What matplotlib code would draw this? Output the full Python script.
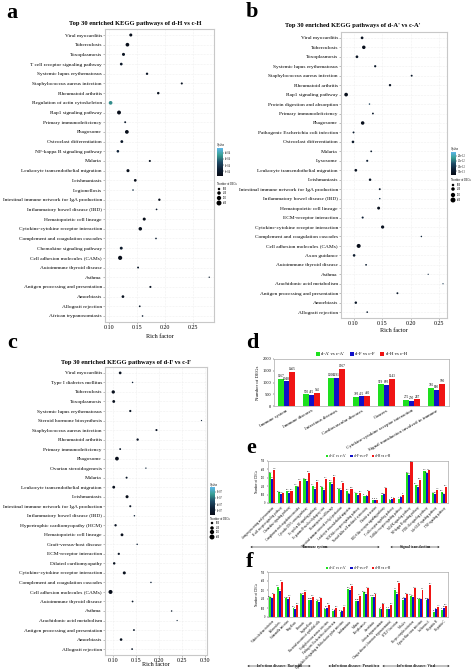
import numpy as np
import matplotlib
matplotlib.use("Agg")
import matplotlib.pyplot as plt
from matplotlib.colors import LinearSegmentedColormap

plt.rcParams['font.family'] = ['Liberation Serif', 'DejaVu Serif']

# ---------------- data ----------------
a_names = ["Viral myocarditis", "Tuberculosis", "Toxoplasmosis", "T cell receptor signaling pathway",
           "Systemic lupus erythematosus", "Staphylococcus aureus infection", "Rheumatoid arthritis",
           "Regulation of actin cytoskeleton", "Rap1 signaling pathway", "Primary immunodeficiency",
           "Phagosome", "Osteoclast differentiation", "NF-kappa B signaling pathway", "Malaria",
           "Leukocyte transendothelial migration", "Leishmaniasis", "Legionellosis",
           "Intestinal immune network for IgA production", "Inflammatory bowel disease (IBD)",
           "Hematopoietic cell lineage", "Cytokine-cytokine receptor interaction",
           "Complement and coagulation cascades", "Chemokine signaling pathway",
           "Cell adhesion molecules (CAMs)", "Autoimmune thyroid disease", "Asthma",
           "Antigen processing and presentation", "Amoebiasis", "Allograft rejection",
           "African trypanosomiasis"]
a_rich = [0.139, 0.133, 0.126, 0.122, 0.168, 0.230, 0.188, 0.103, 0.118, 0.129,
          0.132, 0.123, 0.116, 0.173, 0.134, 0.147, 0.143, 0.190, 0.185, 0.163,
          0.156, 0.184, 0.122, 0.120, 0.152, 0.279, 0.174, 0.125, 0.155, 0.160]
a_genes = [150, 220, 150, 120, 90, 70, 100, 220, 250, 60,
           230, 130, 110, 70, 150, 120, 40, 90, 45, 150,
           200, 45, 140, 280, 60, 30, 70, 120, 50, 40]
a_q = [0.2, 0.1, 0.3, 0.5, 0.4, 0.4, 0.3, 2.5, 0.1, 0.6,
       0.1, 0.5, 0.9, 0.3, 0.2, 0.1, 1.2, 0.2, 0.6, 0.1,
       0.2, 0.8, 0.6, 0.1, 0.5, 0.7, 0.4, 0.3, 0.5, 0.7]

b_names = ["Viral myocarditis", "Tuberculosis", "Toxoplasmosis", "Systemic lupus erythematosus",
           "Staphylococcus aureus infection", "Rheumatoid arthritis", "Rap1 signaling pathway",
           "Protein digestion and absorption", "Primary immunodeficiency", "Phagosome",
           "Pathogenic Escherichia coli infection", "Osteoclast differentiation", "Malaria",
           "Lysosome", "Leukocyte transendothelial migration", "Leishmaniasis",
           "Intestinal immune network for IgA production", "Inflammatory bowel disease (IBD)",
           "Hematopoietic cell lineage", "ECM-receptor interaction",
           "Cytokine-cytokine receptor interaction", "Complement and coagulation cascades",
           "Cell adhesion molecules (CAMs)", "Axon guidance", "Autoimmune thyroid disease",
           "Asthma", "Arachidonic acid metabolism", "Antigen processing and presentation",
           "Amoebiasis", "Allograft rejection"]
b_rich = [0.115, 0.118, 0.106, 0.138, 0.202, 0.164, 0.087, 0.128, 0.134, 0.116,
          0.100, 0.099, 0.131, 0.124, 0.104, 0.129, 0.146, 0.146, 0.144, 0.116,
          0.151, 0.219, 0.109, 0.101, 0.122, 0.231, 0.257, 0.177, 0.104, 0.124]
b_genes = [120, 200, 120, 80, 60, 90, 220, 35, 55, 200,
           60, 110, 50, 70, 120, 100, 60, 35, 140, 70,
           170, 35, 260, 110, 50, 25, 25, 60, 100, 45]
b_q = [0.3, 0.2, 0.4, 0.5, 0.6, 0.4, 0.2, 1.5, 0.6, 0.2,
       0.7, 0.5, 0.7, 0.8, 0.3, 0.4, 0.6, 1.2, 0.2, 0.8,
       0.3, 1.0, 0.1, 0.6, 0.7, 1.1, 1.3, 0.6, 0.5, 0.7]

c_names = ["Viral myocarditis", "Type I diabetes mellitus", "Tuberculosis", "Toxoplasmosis",
           "Systemic lupus erythematosus", "Steroid hormone biosynthesis",
           "Staphylococcus aureus infection", "Rheumatoid arthritis", "Primary immunodeficiency",
           "Phagosome", "Ovarian steroidogenesis", "Malaria", "Leukocyte transendothelial migration",
           "Leishmaniasis", "Intestinal immune network for IgA production",
           "Inflammatory bowel disease (IBD)", "Hypertrophic cardiomyopathy (HCM)",
           "Hematopoietic cell lineage", "Graft-versus-host disease", "ECM-receptor interaction",
           "Dilated cardiomyopathy", "Cytokine-cytokine receptor interaction",
           "Complement and coagulation cascades", "Cell adhesion molecules (CAMs)",
           "Autoimmune thyroid disease", "Asthma", "Arachidonic acid metabolism",
           "Antigen processing and presentation", "Amoebiasis", "Allograft rejection"]
c_rich = [0.116, 0.143, 0.101, 0.102, 0.138, 0.293, 0.195, 0.154, 0.116, 0.109,
          0.172, 0.130, 0.102, 0.131, 0.138, 0.147, 0.106, 0.120, 0.153, 0.113,
          0.103, 0.125, 0.183, 0.095, 0.143, 0.228, 0.240, 0.146, 0.118, 0.142]
c_genes = [120, 35, 180, 130, 80, 25, 70, 90, 55, 230,
           30, 65, 130, 150, 70, 35, 90, 130, 35, 80,
           100, 150, 35, 260, 50, 35, 25, 55, 110, 50]
c_q = [0.3, 0.8, 0.2, 0.2, 0.4, 1.0, 0.4, 0.4, 0.5, 0.1,
       1.0, 0.5, 0.2, 0.1, 0.4, 0.9, 0.4, 0.2, 0.9, 0.4,
       0.3, 0.2, 0.9, 0.1, 0.5, 0.6, 1.0, 0.5, 0.3, 0.5]

series = ["d-A' vs c-A'", "d-F vs c-F", "d-H vs c-H"]
bar_colors = ["#1ee01e", "#1010c8", "#f01414"]

d_cats = ["Immune system", "Immune diseases", "Infectious diseases", "Cardiovascular diseases",
          "Cancers", "Cytokine-cytokine receptor interaction", "Signal transduction involved in immune"]
d_vals = [[1167, 500, 1206, 393, 919, 275, 785],
          [1048, 475, 1191, 415, 893, 230, 690],
          [1465, 545, 1567, 420, 1143, 287, 930]]

e_cats = ["Antigen processing and presentation", "B cell receptor signaling pathway",
          "Chemokine signaling pathway", "Complement and coagulation cascades",
          "Cytosolic DNA-sensing pathway", "Fc epsilon RI signaling pathway",
          "Fc gamma R-mediated phagocytosis", "Hematopoietic cell lineage",
          "Intestinal immune network for IgA production", "Leukocyte transendothelial migration",
          "NOD-like receptor signaling pathway", "Natural killer cell mediated cytotoxicity",
          "Platelet activation", "RIG-I-like receptor signaling pathway",
          "T cell receptor signaling pathway", "Toll-like receptor signaling pathway",
          "MAPK signaling pathway", "NF-kappa B signaling pathway", "PI3K-Akt signaling pathway",
          "Jak-STAT signaling pathway", "TNF signaling pathway"]
e_vals = [[352, 129, 145, 203, 281, 207, 188, 250, 164, 145, 117, 86, 35, 94, 31, 51, 352, 215, 383, 117, 133],
          [289, 109, 125, 188, 266, 172, 156, 230, 156, 105, 94, 78, 35, 102, 47, 66, 332, 195, 352, 109, 105],
          [398, 117, 145, 266, 359, 254, 285, 313, 242, 168, 125, 137, 38, 176, 55, 98, 484, 273, 391, 156, 195]]

f_cats = ["Vibrio cholerae infection", "Tuberculosis", "Salmonella infection", "Shigellosis",
          "Pertussis", "Legionellosis", "Bacterial invasion of epithelial cells",
          "Staphylococcus aureus infection", "Pathogenic Escherichia coli infection",
          "Epithelial cell signaling in Helicobacter pylori infection", "Leishmaniasis", "Malaria",
          "Toxoplasmosis", "Amoebiasis", "African trypanosomiasis",
          "Chagas disease (American trypanosomiasis)", "HTLV-I infection", "Measles",
          "Herpes simplex infection", "Epstein-Barr virus infection", "Influenza A",
          "Hepatitis B", "Hepatitis C"]
f_vals = [[218, 338, 207, 105, 252, 188, 177, 86, 68, 56, 312, 180, 274, 226, 86, 94, 301, 188, 233, 195, 188, 56, 83],
          [207, 289, 199, 94, 244, 188, 169, 105, 75, 64, 301, 180, 256, 226, 94, 94, 256, 207, 226, 195, 195, 86, 102],
          [252, 387, 226, 132, 282, 226, 207, 132, 102, 113, 350, 237, 320, 252, 139, 132, 376, 252, 320, 301, 357, 113, 124]]

legend_sizes = [100, 200, 300, 400]

# ---------------- layout helpers ----------------
W, H = 472, 669
fig = plt.figure(figsize=(W / 100, H / 100), dpi=100)


def px_axes(left, top, right, bottom):
    return fig.add_axes([left / W, 1 - bottom / H, (right - left) / W, (bottom - top) / H])


cmap = LinearSegmentedColormap.from_list("q", ["#070b16", "#0f2238", "#1f4d68", "#3aa096", "#5db6e8"])
SCALE = 0.032

ov = fig.add_axes([0, 0, 1, 1])
ov.set_xlim(0, W)
ov.set_ylim(H, 0)
ov.axis("off")


def dot_panel(box, names, rich, genes, qv, xlim, xticks, title, title_xy,
              cbar_box, cbar_labels, leg_x, leg_title_y, leg_ys, xlabel_y):
    ax = px_axes(*box)
    n = len(names)
    y = np.arange(n)
    sc = ax.scatter(rich, y, s=np.array(genes) * SCALE, c=qv, cmap=cmap, vmin=0, vmax=3.6,
                    edgecolors="none", zorder=3)
    ax.set_ylim(n - 1 + 0.62, -0.62)
    ax.set_xlim(*xlim)
    ax.set_yticks(y)
    ax.set_yticklabels(names, fontsize=3.9)
    ax.set_xticks(xticks)
    ax.set_xticklabels(["%.2f" % t for t in xticks], fontsize=4.3)
    ax.tick_params(length=1.2, width=0.4, pad=1, color="#888888")
    ax.grid(color="#e4e4e4", lw=0.4, ls=":")
    ax.set_axisbelow(True)
    for s in ax.spines.values():
        s.set_color("#c8c8c8")
        s.set_linewidth(0.8)
    fig.text(title_xy[0] / W, 1 - title_xy[1] / H, title, fontsize=4.7, fontweight="bold",
             ha="center", va="center")
    cx = (box[0] + box[2]) / 2
    fig.text(cx / W, 1 - xlabel_y / H, "Rich factor", fontsize=4.4, ha="center", va="center")
    # colorbar
    cax = px_axes(*cbar_box)
    cb = fig.colorbar(sc, cax=cax)
    cb.outline.set_visible(False)
    cb.set_ticks([0.6, 1.4, 2.2, 3.0])
    cb.set_ticklabels(cbar_labels)
    cax.tick_params(labelsize=1.8, length=0.8, width=0.3, pad=0.5)
    fig.text(cbar_box[0] / W, 1 - (cbar_box[1] - 3) / H, "Qvalue", fontsize=2, va="center")
    # size legend
    ov.text(leg_x - 2, leg_title_y, "Number of DEGs", fontsize=2, va="center")
    for v, yy in zip(legend_sizes, leg_ys):
        ov.scatter([leg_x], [yy], s=v * SCALE, color="black", edgecolors="none")
        ov.text(leg_x + 4, yy, str(v), fontsize=2, va="center")
    return ax


dot_panel((105, 29, 214, 322), a_names, a_rich, a_genes, a_q, (0.093, 0.2875),
          [0.10, 0.15, 0.20, 0.25], "Top 30 enriched KEGG pathways of d-H vs c-H", (135, 24),
          (217, 148, 223, 176), ["1e-04", "2e-04", "3e-04", "4e-04"], 219, 184,
          [189, 193, 198, 203], 337)

dot_panel((341, 32, 447, 318), b_names, b_rich, b_genes, b_q, (0.078, 0.264),
          [0.10, 0.15, 0.20, 0.25], "Top 30 enriched KEGG pathways of d-A' vs c-A'", (353, 26),
          (451, 152, 456, 175), ["5.0e-13", "1.0e-12", "1.5e-12", "2.0e-12"], 453, 180,
          [185, 189, 195, 200], 330)

dot_panel((105, 367, 207, 655), c_names, c_rich, c_genes, c_q, (0.083, 0.305),
          [0.10, 0.15, 0.20, 0.25, 0.30], "Top 30 enriched KEGG pathways of d-F vs c-F", (126, 362),
          (210, 487, 215, 515), ["2e-07", "4e-07", "6e-07", "8e-07"], 212, 519,
          [523, 528, 532, 537], 665)


def bar_panel(box, cats, vals, ymax, step, width, lab_fs, tick_fs, val_fs, rot, leg_y, leg_fs):
    ax = px_axes(*box)
    x = np.arange(len(cats))
    for i in range(3):
        bars = ax.bar(x + (i - 1) * width, vals[i], width=width, color=bar_colors[i],
                      edgecolor="none", label=series[i], zorder=3)
        for b, v in zip(bars, vals[i]):
            ax.text(b.get_x() + b.get_width() / 2, v + ymax * 0.015, str(v), fontsize=val_fs,
                    ha="center", va="bottom")
    ax.set_xlim(-0.5, len(cats) - 0.5)
    ax.set_ylim(0, ymax)
    ax.set_yticks(np.arange(0, ymax + 1, step))
    ax.tick_params(axis="y", labelsize=tick_fs, length=1, width=0.3, pad=1)
    ax.set_xticks(x)
    ax.set_xticklabels(cats, rotation=rot, ha="right", rotation_mode="anchor", fontsize=lab_fs)
    ax.tick_params(axis="x", length=0, pad=2)
    ax.set_ylabel("Number of DEGs", fontsize=tick_fs + 0.3, labelpad=1.5)
    for s in ax.spines.values():
        s.set_color("#aaaaaa")
        s.set_linewidth(0.5)
    ax.legend(loc="lower center", bbox_to_anchor=(0.5, 1 + (box[1] - leg_y) / (box[3] - box[1]) - 0.05),
              ncol=3, frameon=False, fontsize=leg_fs, handlelength=0.8, handleheight=0.8,
              handletextpad=0.3, columnspacing=1.2, borderpad=0, borderaxespad=0)
    return ax


bar_panel((274, 359, 449, 406), d_cats, d_vals, 2000, 500, 0.22, 3.5, 3.2, 2.4, 30, 354, 3.4)
bar_panel((268, 461, 448, 503), e_cats, e_vals, 500, 100, 0.24, 2.2, 2.0, 1.5, 45, 456, 2.4)
bar_panel((268, 572, 448, 617), f_cats, f_vals, 500, 100, 0.24, 2.2, 2.0, 1.5, 45, 568, 2.4)


def bracket(x0, x1, y, text, fs):
    cx = (x0 + x1) / 2
    ov.text(cx, y, text, fontsize=fs, fontweight="bold", ha="center", va="center")
    half = len(text) * fs * 0.27
    ov.plot([x0, cx - half], [y, y], color="black", lw=0.35)
    ov.plot([cx + half, x1], [y, y], color="black", lw=0.35)
    ov.plot([x0 + 1.2, x0, x0 + 1.2], [y - 0.8, y, y + 0.8], color="black", lw=0.35)
    ov.plot([x1 - 1.2, x1, x1 - 1.2], [y - 0.8, y, y + 0.8], color="black", lw=0.35)


bracket(251, 379, 547, "Immune system", 2.6)
bracket(391, 439, 547, "Signal transduction", 2.6)
bracket(248, 310, 666, "Infectious diseases: Bacterial", 2.6)
bracket(329, 379, 666, "Infectious diseases: Parasitic", 2.6)
bracket(383, 449, 666, "Infectious diseases: Viral", 2.6)

# panel letters
for letter, lx, ly in [("a", 6, 18), ("b", 246, 17), ("c", 7, 348),
                       ("d", 246, 348), ("e", 246, 453), ("f", 246, 567)]:
    fig.text(lx / W, 1 - ly / H, letter, fontsize=16, fontweight="bold", va="baseline")

fig.savefig("out.png", dpi=100)
